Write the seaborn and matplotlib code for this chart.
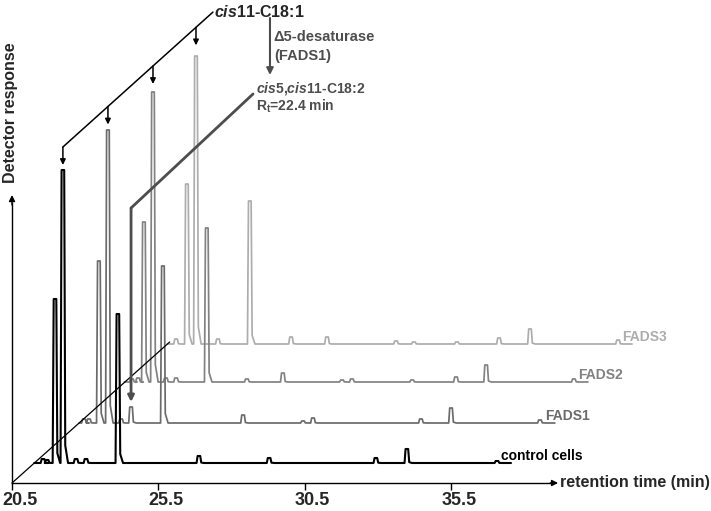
import numpy as np
import pandas as pd
import matplotlib
matplotlib.use('Agg')
import matplotlib.pyplot as plt
import seaborn as sns

# ---- data (retention time in min, peak height above baseline) ----
samples = ['control cells', 'FADS1', 'FADS2', 'FADS3']
colors = ['#000000', '#6b6b6b', '#828282', '#adadad']
line_widths = [1.5, 1.25, 1.25, 1.25]

control_rt = [21.56, 21.70, 21.97, 22.24, 22.69, 23.03, 24.12, 26.89, 29.29, 32.94, 34.00, 37.08]
control_h = [4, 3, 164, 293, 4, 4, 149, 7, 5, 5, 14, 2]
fads1_rt = [21.42, 21.59, 21.93, 22.24, 22.69, 23.03, 24.12, 26.86, 28.91, 29.25, 32.94, 33.97, 37.01]
fads1_h = [4, 4, 162, 293, 4, 16, 157, 8, 2, 5, 4, 15, 3]
fads2_rt = [21.52, 21.73, 21.93, 22.24, 22.68, 23.03, 24.08, 25.45, 26.68, 28.70, 29.04, 31.10, 32.60, 33.63, 36.63]
fads2_h = [3, 4, 160, 290, 4, 4, 154, 3, 9, 2, 3, 2, 5, 17, 3]
fads3_rt = [21.56, 21.93, 22.24, 22.99, 24.08, 25.49, 26.72, 29.08, 29.69, 31.16, 32.60, 33.66, 36.67]
fads3_h = [5, 160, 288, 5, 143, 7, 7, 3, 2, 2, 6, 15, 4]

run_start = 21.26
run_end = [37.56, 37.52, 37.11, 37.15]

# stacking offsets of the traces (x in min, y in response units)
x_shift = [0, 1.54, 3.08, 4.55]
y_shift = [20, 60, 101, 139]

x_ticks = [20.5, 25.5, 30.5, 35.5]

peak_rt = [control_rt, fads1_rt, fads2_rt, fads3_rt]
peak_h = [control_h, fads1_h, fads2_h, fads3_h]


def build_trace(rt, h, end, w=0.08, cap=0.045):
    # each peak: steep front, flat-ish top, small tail on the right
    xs, ys = [run_start], [0]
    for t, hh in zip(rt, h):
        xs += [t - w, t - cap, t + cap, t + w, t + 2.2 * w]
        ys += [0, hh, hh, 0.06 * hh, 0]
    xs.append(end)
    ys.append(0)
    return np.array(xs), np.array(ys)


frames = []
for i, name in enumerate(samples):
    xs, ys = build_trace(peak_rt[i], peak_h[i], run_end[i])
    frames.append(pd.DataFrame({'time': xs + x_shift[i], 'response': ys + y_shift[i],
                                'sample': name}))
df = pd.concat(frames, ignore_index=True)

# ---- figure ----
sns.set_theme(style='white')
plt.rcParams['font.family'] = ['Liberation Sans', 'DejaVu Sans']
plt.rcParams['font.weight'] = 'bold'
plt.rcParams['mathtext.fontset'] = 'custom'
plt.rcParams['mathtext.rm'] = 'Liberation Sans:bold'
plt.rcParams['mathtext.bf'] = 'Liberation Sans:bold'
plt.rcParams['mathtext.it'] = 'Liberation Sans:italic:bold'

px_per_min = 29.25
fig = plt.figure(figsize=(7.11, 5.11), dpi=100, facecolor='white')
ax = fig.add_axes([0, 0, 1, 1])
ax.set_xlim(20.5 - 12 / px_per_min, 20.5 + 699 / px_per_min)
ax.set_ylim(-28, 483)

# traces, back to front
for i in range(len(samples) - 1, -1, -1):
    sns.lineplot(data=df[df['sample'] == samples[i]], x='time', y='response',
                 color=colors[i], lw=line_widths[i], estimator=None, sort=False, ax=ax)

# trace labels
for i, name in enumerate(samples):
    ax.text(run_end[i] + x_shift[i] - 0.33, y_shift[i] + 7, name, color=colors[i],
            fontsize=10, fontweight='bold', ha='left', va='center')

# stacking diagonal
ax.plot([20.5, run_start + x_shift[3] + 0.08], [0, y_shift[3] + 2], color='black', lw=0.9)

# axes as arrows
for s in ['top', 'right']:
    ax.spines[s].set_visible(False)
ax.spines['bottom'].set_position(('data', 0))
ax.spines['left'].set_position(('data', 20.5))
ax.spines['bottom'].set_bounds(20.5, 39.0)
ax.spines['left'].set_bounds(0, 280)
for s in ['bottom', 'left']:
    ax.spines[s].set_color('black')
    ax.spines[s].set_linewidth(1.0)
arrow_kw = dict(arrowstyle='-|>', color='black', lw=1.0, mutation_scale=9, shrinkA=0, shrinkB=0)
ax.annotate('', xy=(39.17, 0), xytext=(38.9, 0), arrowprops=arrow_kw)
ax.annotate('', xy=(20.5, 288), xytext=(20.5, 278), arrowprops=arrow_kw)

ax.set_xticks(x_ticks)
ax.set_yticks([])
ax.tick_params(axis='x', bottom=True, direction='out', length=5, width=1, color='black',
               labelbottom=False)
for t in x_ticks:
    ax.text(t + 8 / px_per_min, -17, f'{t}', ha='center', va='center', fontsize=13,
            fontweight='bold')
ax.set_xlabel('')
ax.set_ylabel('')
ax.text(39.24, 1, 'retention time (min)', ha='left', va='center', fontsize=11.5,
        fontweight='bold')
ax.text(20.5 - 1 / px_per_min, 370, 'Detector response', rotation=90, ha='center',
        va='center', fontsize=11.5, fontweight='bold')

# cis11-C18:1 bracket with arrows to the main peak of each trace
main_idx = [int(np.argmax(h)) for h in peak_h]
main_x = [peak_rt[i][main_idx[i]] + x_shift[i] for i in range(4)]
corner_y = 336
slope = 26.3
label_x = 27.37
ax.plot([main_x[0], label_x], [corner_y, corner_y + slope * (label_x - main_x[0])],
        color='black', lw=1.1)
small_arrow = dict(arrowstyle='-|>', color='black', lw=1.1, mutation_scale=8, shrinkA=0, shrinkB=0)
for mx in main_x:
    ly = corner_y + slope * (mx - main_x[0])
    ax.annotate('', xy=(mx, ly - 18), xytext=(mx, ly), arrowprops=small_arrow)

ax.text(label_x + 0.05, 471, r'$\mathit{cis}$11-C18:1', fontsize=11.5, fontweight='bold',
        ha='left', va='center')

# desaturase arrow
ann_col = '#4d4d4d'
ax.annotate('', xy=(29.32, 408), xytext=(29.32, 465),
            arrowprops=dict(arrowstyle='-|>', color=ann_col, lw=1.5, mutation_scale=10,
                            shrinkA=0, shrinkB=0))
ax.text(29.45, 446, 'Δ5-desaturase', color=ann_col, fontsize=10.5, fontweight='bold',
        ha='left', va='center')
ax.text(29.45, 427, '(FADS1)', color=ann_col, fontsize=10.5, fontweight='bold',
        ha='left', va='center')

# cis5,cis11-C18:2 product label and pointer to the new FADS1 peak
new_i = fads1_h.index(16)
new_x = fads1_rt[new_i] + x_shift[1]
new_top = fads1_h[new_i] + y_shift[1]
ax.plot([28.74, new_x], [389, 275], color=ann_col, lw=2)
ax.annotate('', xy=(new_x, new_top + 5), xytext=(new_x, 275),
            arrowprops=dict(arrowstyle='-|>', color=ann_col, lw=2, mutation_scale=9,
                            shrinkA=0, shrinkB=0))
ax.text(28.84, 395, r'$\mathit{cis}$5,$\mathit{cis}$11-C18:2', color=ann_col, fontsize=10,
        fontweight='bold', ha='left', va='center')
ax.text(28.84, 377, r'R$_\mathregular{t}$=22.4 min', color=ann_col, fontsize=10,
        fontweight='bold', ha='left', va='center')

plt.savefig('out.png', dpi=100, facecolor='white')
